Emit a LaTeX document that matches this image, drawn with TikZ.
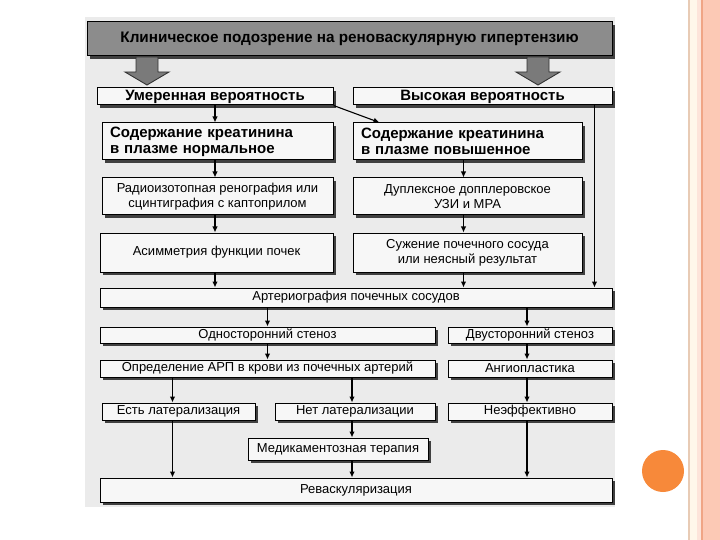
\documentclass[tikz,border=0pt]{standalone}
\usepackage{fontspec}
\setmainfont{Liberation Sans}
\usetikzlibrary{arrows.meta,shadows}
\definecolor{peach}{HTML}{FCC9B5}
\definecolor{peachline}{HTML}{F0A585}
\definecolor{cream}{HTML}{FFF7EA}
\definecolor{tan}{HTML}{E8CBB5}
\definecolor{dotorange}{HTML}{F7893A}

\tikzset{
  box/.style={draw=black,line width=1pt,fill=black!3,inner sep=0pt,align=center,
    font=\fontsize{13}{15}\selectfont,
    drop shadow={shadow xshift=3pt,shadow yshift=-3pt,fill=black!75,opacity=1}},
  boldbox/.style={box,font=\fontsize{15}{16}\bfseries\selectfont},
  leftbox/.style={boldbox,align=left,inner xsep=8pt,text width=215pt,minimum height=37pt},
  arr/.style={-{Latex[length=6pt,width=5.5pt]},line width=1.1pt},
  bigarrow/.style={fill=black!52,draw=black!80,line width=0.9pt}
}

\begin{document}
\begin{tikzpicture}[x=1pt,y=-1pt]
\useasboundingbox (0,0) rectangle (720,540);
% slide frame
\fill[white] (0,0) rectangle (720,540);
\fill[tan] (688,0) rectangle (690,540);
\fill[cream] (690,0) rectangle (697,540);
\fill[peach!50] (697,0) rectangle (701,540);
\fill[peachline] (701,0) rectangle (703,540);
\fill[peach] (703,0) rectangle (720,540);
\fill[dotorange] (663,471) circle (21);
% scanned chart
\fill[black!8] (85,17) rectangle (615,507);

\node[box,fill=black!45,minimum width=525pt,minimum height=34pt,
  font=\fontsize{15.3}{17}\bfseries\selectfont] (title) at (349.5,39)
  {Клиническое подозрение на реноваскулярную гипертензию};
\foreach \bx in {147,538}
  \draw[bigarrow] (\bx-11,57) -- (\bx+11,57) -- (\bx+11,72) -- (\bx+22,72)
    -- (\bx,85) -- (\bx-22,72) -- (\bx-11,72) -- cycle;

\node[boldbox,minimum width=236pt,minimum height=17pt] (moder) at (215,96.5) {Умеренная вероятность};
\node[boldbox,minimum width=259pt,minimum height=17pt] (high) at (482.5,96.5) {Высокая вероятность};

\node[leftbox] (creatN) at (217.5,141.5) {Содержание креатинина\\в плазме нормальное};
\node[leftbox,text width=213pt] (creatH) at (467.5,141.5) {Содержание креатинина\\в плазме повышенное};

\node[box,minimum width=231pt,minimum height=37pt] (radio) at (217.5,196.5)
  {Радиоизотопная ренография или\\сцинтиграфия с каптоприлом};
\node[box,minimum width=229pt,minimum height=37pt] (duplex) at (467.5,196.5)
  {Дуплексное допплеровское\\УЗИ и МРА};

\node[box,minimum width=233pt,minimum height=39pt] (asym) at (216.5,252.5) {Асимметрия функции почек};
\node[box,minimum width=229pt,minimum height=39pt] (narrow) at (467.5,252.5)
  {Сужение почечного сосуда\\или неясный результат};

\node[box,minimum width=512pt,minimum height=19pt] (arterio) at (356,297.5) {Артериография почечных сосудов};

\node[box,minimum width=335pt,minimum height=16pt] (uni) at (267.5,335) {Односторонний стеноз};
\node[box,minimum width=164pt,minimum height=16pt] (bi) at (530,335) {Двусторонний стеноз};

\node[box,minimum width=335pt,minimum height=17pt] (arp) at (267.5,368.5) {Определение АРП в крови из почечных артерий};
\node[box,minimum width=164pt,minimum height=17pt] (angio) at (530,368.5) {Ангиопластика};

\node[box,minimum width=153pt,minimum height=17pt] (lat) at (178.5,411.5) {Есть латерализация};
\node[box,minimum width=160pt,minimum height=17pt] (nolat) at (355,411.5) {Нет латерализации};
\node[box,minimum width=164pt,minimum height=17pt] (ineff) at (530,411.5) {Неэффективно};

\node[box,minimum width=180pt,minimum height=22pt] (med) at (338,449) {Медикаментозная терапия};

\node[box,minimum width=512pt,minimum height=24pt] (revasc) at (356,490) {Реваскуляризация};

% connectors
\coordinate (hr) at ([xshift=-18pt]high.south east);
\coordinate (dg) at ([xshift=27pt]creatH.north west);
\draw[arr] (moder.south) -- (moder.south |- creatN.north);
\draw[arr] (moder.south east) -- (dg);
\draw[arr] (hr) -- (hr |- arterio.north);
\draw[arr] (moder.south |- creatN.south) -- (moder.south |- radio.north);
\draw[arr] (moder.south |- radio.south) -- (moder.south |- asym.north);
\draw[arr] (moder.south |- asym.south) -- (moder.south |- arterio.north);
\draw[arr] ([xshift=-4pt]creatH.south) -- ([xshift=-4pt]creatH.south |- duplex.north);
\draw[arr] ([xshift=-4pt]duplex.south) -- ([xshift=-4pt]duplex.south |- narrow.north);
\draw[arr] ([xshift=-4pt]narrow.south) -- ([xshift=-4pt]narrow.south |- arterio.north);
\draw[arr] (uni.north |- arterio.south) -- (uni.north);
\draw[arr] ([xshift=-3pt]bi.north |- arterio.south) -- ([xshift=-3pt]bi.north);
\draw[arr] (uni.south) -- (arp.north);
\draw[arr] ([xshift=-3pt]bi.south) -- ([xshift=-3pt]angio.north);
\draw[arr] ([xshift=-6pt]lat.north |- arp.south) -- ([xshift=-6pt]lat.north);
\draw[arr] ([xshift=-3pt]nolat.north |- arp.south) -- ([xshift=-3pt]nolat.north);
\draw[arr] ([xshift=-3pt]angio.south) -- ([xshift=-3pt]ineff.north);
\draw[arr] ([xshift=-6pt]lat.south) -- ([xshift=-6pt]lat.south |- revasc.north);
\draw[arr] ([xshift=-3pt]nolat.south) -- ([xshift=-3pt]nolat.south |- med.north);
\draw[arr] ([xshift=-3pt]nolat.south |- med.south) -- ([xshift=-3pt]nolat.south |- revasc.north);
\draw[arr] ([xshift=-3pt]ineff.south) -- ([xshift=-3pt]ineff.south |- revasc.north);
\end{tikzpicture}
\end{document}
